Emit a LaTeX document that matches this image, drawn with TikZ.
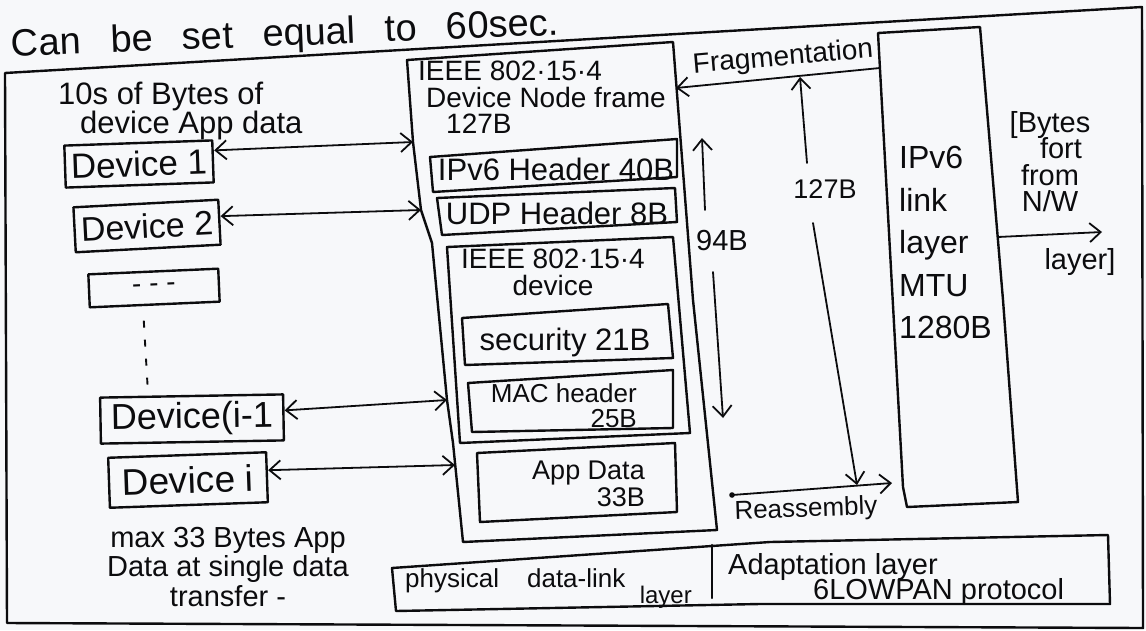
\documentclass[tikz,border=0pt]{standalone}
\usepackage{fontspec}
\setmainfont{Liberation Sans}
\usetikzlibrary{arrows.meta,calc}

\definecolor{paper}{RGB}{247,248,250}
\definecolor{pen}{RGB}{12,12,14}

\tikzset{
  hand/.style 2 args={font={\fontsize{#1}{#2}\selectfont\lineskiplimit=-60pt},
    text=pen, inner sep=0pt},
  ink/.style={draw=pen, line width=2.4pt, line join=round, line cap=round},
  devbox/.style={ink, inner sep=0pt},
  link/.style={draw=pen, line width=1.8pt, line cap=round,
    {Straight Barb[length=11pt,width=19pt]}-{Straight Barb[length=11pt,width=19pt]}},
  arr/.style={draw=pen, line width=1.8pt, line cap=round,
    -{Straight Barb[length=11pt,width=19pt]}},
  dashes/.style={draw=pen, line width=1.9pt, dash pattern=on 7pt off 12pt},
}

\begin{document}
\begin{tikzpicture}[x=1pt,y=-1pt]
\useasboundingbox (0,0) rectangle (1146,630);
\fill[paper] (0,0) rectangle (1146,630);

% heading line above the sketch
\node[hand={38}{44}, rotate=2.3] (note) at (285,36)
  {\spaceskip=0.78em\relax Can be set equal to 60sec.};

% outer frame
\draw[ink] (5,73) -- (1142,7) -- (1143,628) -- (7,623) -- cycle;

% ---------- devices (left column) ----------
\node[hand={31}{29}, align=left, anchor=north west] (applbl) at (58,82)
  {10s of Bytes of\\\hspace*{22pt}device App data};

\node[devbox, hand={35}{40}, minimum width=148pt, minimum height=42pt, rotate=2]
  (dev1) at (139,164) {Device 1};
\node[devbox, hand={34}{40}, minimum width=145pt, minimum height=45pt, rotate=3]
  (dev2) at (147,226) {Device 2};
\node[devbox, hand={28}{30}, minimum width=130pt, minimum height=33pt, rotate=2.5]
  (devdots) at (154,288) {- - -};
\node[devbox, hand={36}{40}, minimum width=183pt, minimum height=46pt, rotate=1]
  (devim1) at (192,419) {Device(i-1};
\node[devbox, hand={37}{40}, minimum width=158pt, minimum height=50pt, rotate=2]
  (devi) at (188,480) {Device i};

\draw[dashes] ([xshift=-11pt,yshift=-15pt]devdots.south) -- ([xshift=-44pt,yshift=9pt]devim1.north);

\node[hand={29}{29.5}, align=center, anchor=north] (maxlbl) at (228,527)
  {max 33 Bytes App\\Data at single data\\transfer -};

% ---------- IEEE 802.15.4 frame (middle) ----------
\coordinate (fTL) at (407,60);
\coordinate (fTR) at (673,42);
\coordinate (fBR) at (717,530);
\coordinate (fBL) at (463,542);
\coordinate (fa1) at (413,142);
\coordinate (fa2) at (421,210);
\coordinate (fa3) at (447,400);
\coordinate (fa4) at (455,465);
\coordinate (fr1) at (676,88);
\draw[ink] (fTL) -- (fTR) -- (693,300) -- (fBR) -- (fBL) -- (453,443) -- (fa3)
  -- (432,243) -- (fa2) -- (fa1) -- cycle;

\node[hand={28}{26.5}, align=left, anchor=north west] (framelbl) at (418,61)
  {IEEE 802·15·4\\\hspace*{8pt}Device Node frame\\\hspace*{28pt}127B};

% header boxes
\draw[ink] (430,157) -- (677,139) -- (677,177) -- (433,192) -- cycle;
\node[hand={31}{30}] (ipv6hdr) at (556,169) {IPv6 Header 40B};
\draw[ink] (437,198) -- (675,188) -- (677,222) -- (442,235) -- cycle;
\node[hand={31}{30}] (udphdr) at (557,213) {UDP Header 8B};

% IEEE 802.15.4 device block
\draw[ink] (447,247) -- (673,237) -- (690,433) -- (460,443) -- cycle;
\node[hand={28}{27}, align=center, anchor=north] (devlbl) at (553,249)
  {IEEE 802·15·4\\device};
\draw[ink] (462,318) -- (668,304) -- (673,358) -- (465,365) -- cycle;
\node[hand={31}{30}] (sec) at (565,342) {security 21B};
\draw[ink] (468,383) -- (673,370) -- (673,428) -- (472,432) -- cycle;
\node[hand={26}{25}, align=right, anchor=north east] (mac) at (637,383)
  {MAC header\\25B};

% application data
\draw[ink] (477,453) -- (675,443) -- (677,512) -- (480,522) -- cycle;
\node[hand={27}{27}, align=right, anchor=north east] (appdata) at (645,461)
  {App Data\\33B};

% device <-> frame links
\draw[link] ([yshift=11pt]dev1.east) -- (fa1);
\draw[link] ([yshift=6pt]dev2.east) -- (fa2);
\draw[link] ([yshift=7pt]devim1.east) -- (fa3);
\draw[link] ([yshift=7pt]devi.east) -- (fa4);

% 94 B span
\coordinate (u94a) at (705,210);
\coordinate (u94b) at (702,138);
\coordinate (d94a) at (713,272);
\coordinate (d94b) at (723,418);
\node[hand={29}{30}] (b94) at (722,241) {94B};
\draw[arr] (u94a) -- (u94b);
\draw[arr] (d94a) -- (d94b);

% ---------- IPv6 link layer MTU (right) ----------
\draw[ink] (878,33) -- (980,27) -- (1003,300) -- (1018,502) -- (907,507) -- (903,487) -- cycle;
\coordinate (mtuL1) at (880,68);
\coordinate (mtuR1) at (998,237);
\node[hand={32}{42.5}, align=left, anchor=north west] (mtulbl) at (899,146)
  {IPv6\\link\\layer\\MTU\\1280B};

% fragmentation / reassembly
\draw[arr] (mtuL1) -- (fr1);
\node[hand={28}{30}, rotate=5] (frag) at (783,58) {Fragmentation};

\coordinate (u127a) at (807,163);
\coordinate (u127b) at (800,77);
\coordinate (d127a) at (813,223);
\coordinate (d127b) at (857,485);
\node[hand={27}{30}] (b127) at (825,189) {127B};
\draw[arr] (u127a) -- (u127b);
\draw[arr] (d127a) -- (d127b);

\coordinate (rsmA) at (732,495);
\coordinate (rsmB) at (892,483);
\fill[pen] (rsmA) circle (2.8pt);
\draw[arr] (rsmA) -- (rsmB);
\node[hand={26}{30}, rotate=2] (rsm) at (806,510) {Reassembly};

% bytes towards the network layer
\coordinate (nwB) at (1102,232);
\draw[arr] (mtuR1) -- (nwB);
\node[hand={29}{26.5}, align=center, anchor=north] (byteslbl) at (1050,111)
  {[Bytes\\\hspace*{22pt}fort\\from\\N/W};
\node[hand={29}{30}] (layerlbl) at (1080,262) {layer]};

% ---------- protocol layers (bottom) ----------
\draw[ink] (392,568) -- (770,542) -- (1108,535) -- (1110,604) -- (760,604) -- (396,611) -- cycle;
\draw[ink] (712,545) -- (712,598);
\node[hand={26}{30}, anchor=base west] (phylbl) at (405,587)
  {physical\hspace{28pt}data-link};
\node[hand={24}{30}, anchor=base east] (phylayer) at (692,603) {layer};
\node[hand={29}{25}, align=left, anchor=north west] (adaptlbl) at (728,553)
  {Adaptation layer\\\hspace*{85pt}6LOWPAN protocol};

\end{tikzpicture}
\end{document}
